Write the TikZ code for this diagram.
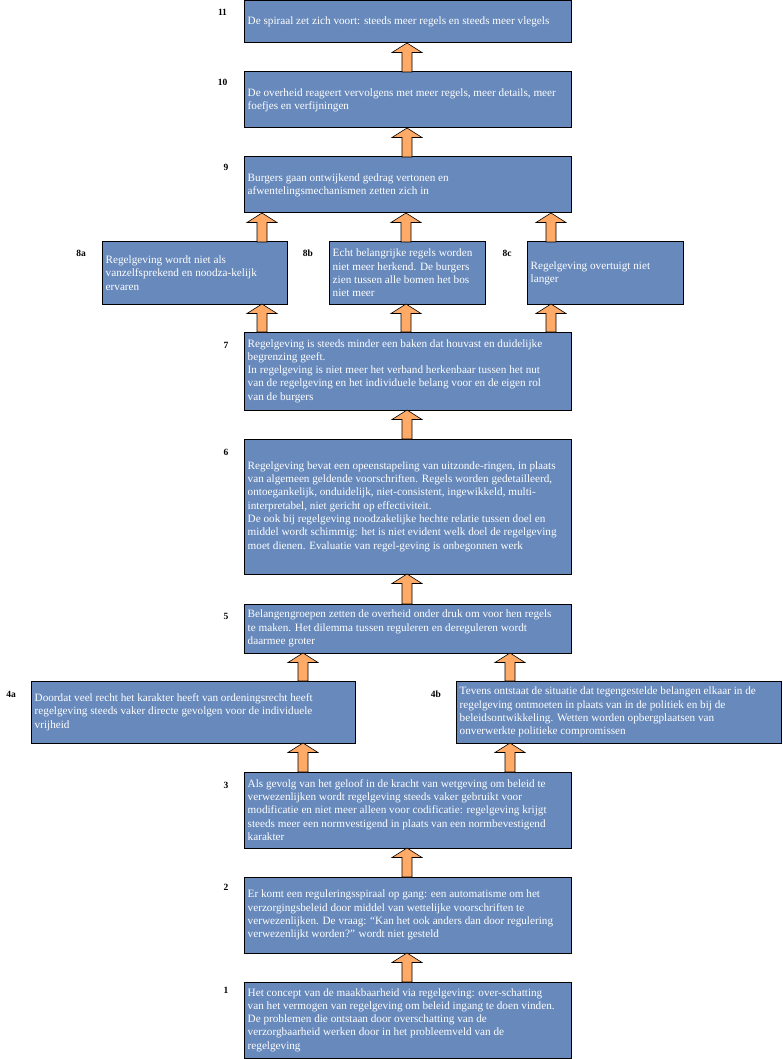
\documentclass[tikz,border=0pt]{standalone}
\usepackage{fontspec}
\setmainfont{Liberation Serif}
\usetikzlibrary{calc}
\definecolor{boxblue}{RGB}{103,137,188}
\definecolor{arroworange}{RGB}{255,170,102}
\tikzset{
 box/.style={draw=black, line width=1pt, fill=boxblue, inner sep=0pt, outer sep=0pt},
 boxtext/.style={text=white, font=\fontsize{11.2}{13.3}\selectfont, align=left, anchor=west, inner sep=0pt},
 num/.style={font=\fontsize{9.5}{10}\selectfont\bfseries, inner sep=0pt},
 blockarrow/.style={draw=black, line width=0.6pt, fill=arroworange, line join=miter},
}
\newcommand{\blockarr}[3]{%
 \draw[blockarrow] let \p1=(#2.north), \p2=(#3.south) in
 ({#1pt-5pt},\y1) -- ({#1pt-5pt},{\y2-9.5pt}) -- ({#1pt-15pt},{\y2-9.5pt}) -- (#1pt,\y2)
 -- ({#1pt+15pt},{\y2-9.5pt}) -- ({#1pt+5pt},{\y2-9.5pt}) -- ({#1pt+5pt},\y1) -- cycle;}
\begin{document}
\begin{tikzpicture}[x=1pt,y=-1pt]
\useasboundingbox (0,0) rectangle (783,1059);
% boxes
\node[box, minimum width=327pt, minimum height=42pt] (b11) at (407.5,22) {};
\node[box, minimum width=327pt, minimum height=56pt] (b10) at (407.5,100) {};
\node[box, minimum width=327pt, minimum height=56pt] (b9) at (407.5,185) {};
\node[box, minimum width=185pt, minimum height=62pt] (b8a) at (194.5,273) {};
\node[box, minimum width=156pt, minimum height=62pt] (b8b) at (407,273) {};
\node[box, minimum width=156pt, minimum height=62pt] (b8c) at (605,273) {};
\node[box, minimum width=327pt, minimum height=78pt] (b7) at (407.5,371) {};
\node[box, minimum width=327pt, minimum height=135pt] (b6) at (407.5,506.5) {};
\node[box, minimum width=327pt, minimum height=49pt] (b5) at (407.5,628.5) {};
\node[box, minimum width=324pt, minimum height=62pt] (b4a) at (193,712) {};
\node[box, minimum width=325pt, minimum height=62pt] (b4b) at (618.5,712) {};
\node[box, minimum width=327pt, minimum height=76pt] (b3) at (407.5,810) {};
\node[box, minimum width=327pt, minimum height=76pt] (b2) at (407.5,915) {};
\node[box, minimum width=327pt, minimum height=76pt] (b1) at (407.5,1020) {};
% texts
\node[boxtext] (t11) at ([xshift=3.5pt]b11.west) {De spiraal zet zich voort: steeds meer regels en steeds meer vlegels};
\node[boxtext] (t10) at ([xshift=3.5pt]b10.west) {De overheid reageert vervolgens met meer regels, meer details, meer\\foefjes en verfijningen};
\node[boxtext] (t9) at ([xshift=3.5pt]b9.west) {Burgers gaan ontwijkend gedrag vertonen en\\afwentelingsmechanismen zetten zich in};
\node[boxtext] (t8a) at ([xshift=3.5pt]b8a.west) {Regelgeving wordt niet als\\vanzelfsprekend en noodza-kelijk\\ervaren};
\node[boxtext] (t8b) at ([xshift=3.5pt]b8b.west) {Echt belangrijke regels worden\\niet meer herkend. De burgers\\zien tussen alle bomen het bos\\niet meer};
\node[boxtext] (t8c) at ([xshift=3.5pt]b8c.west) {Regelgeving overtuigt niet\\langer};
\node[boxtext] (t7) at ([xshift=3.5pt]b7.west) {Regelgeving is steeds minder een baken dat houvast en duidelijke\\begrenzing geeft.\\In regelgeving is niet meer het verband herkenbaar tussen het nut\\van de regelgeving en het individuele belang voor en de eigen rol\\van de burgers};
\node[boxtext] (t6) at ([xshift=3.5pt]b6.west) {Regelgeving bevat een opeenstapeling van uitzonde-ringen, in plaats\\van algemeen geldende voorschriften. Regels worden gedetailleerd,\\ontoegankelijk, onduidelijk, niet-consistent, ingewikkeld, multi-\\interpretabel, niet gericht op effectiviteit.\\De ook bij regelgeving noodzakelijke hechte relatie tussen doel en\\middel wordt schimmig: het is niet evident welk doel de regelgeving\\moet dienen. Evaluatie van regel-geving is onbegonnen werk};
\node[boxtext] (t5) at ([xshift=3.5pt]b5.west) {Belangengroepen zetten de overheid onder druk om voor hen regels\\te maken. Het dilemma tussen reguleren en dereguleren wordt\\daarmee groter};
\node[boxtext] (t4a) at ([xshift=3.5pt]b4a.west) {Doordat veel recht het karakter heeft van ordeningsrecht heeft\\regelgeving steeds vaker directe gevolgen voor de individuele\\vrijheid};
\node[boxtext] (t4b) at ([xshift=3.5pt]b4b.west) {Tevens ontstaat de situatie dat tegengestelde belangen elkaar in de\\regelgeving ontmoeten in plaats van in de politiek en bij de\\beleidsontwikkeling. Wetten worden opbergplaatsen van\\onverwerkte politieke compromissen};
\node[boxtext] (t3) at ([xshift=3.5pt]b3.west) {Als gevolg van het geloof in de kracht van wetgeving om beleid te\\verwezenlijken wordt regelgeving steeds vaker gebruikt voor\\modificatie en niet meer alleen voor codificatie: regelgeving krijgt\\steeds meer een normvestigend in plaats van een normbevestigend\\karakter};
\node[boxtext] (t2) at ([xshift=3.5pt]b2.west) {Er komt een reguleringsspiraal op gang: een automatisme om het\\verzorgingsbeleid door middel van wettelijke voorschriften te\\verwezenlijken. De vraag: “Kan het ook anders dan door regulering\\verwezenlijkt worden?” wordt niet gesteld};
\node[boxtext] (t1) at ([xshift=3.5pt]b1.west) {Het concept van de maakbaarheid via regelgeving: over-schatting\\van het vermogen van regelgeving om beleid ingang te doen vinden.\\De problemen die ontstaan door overschatting van de\\verzorgbaarheid werken door in het probleemveld van de\\regelgeving};
% numbers
\node[num] (n11) at (222.5,12) {11};
\node[num] (n10) at (222.5,82) {10};
\node[num] (n9) at (226,167) {9};
\node[num] (n8a) at (81,253) {8a};
\node[num] (n8b) at (308,253) {8b};
\node[num] (n8c) at (507,253) {8c};
\node[num] (n7) at (226,345) {7};
\node[num] (n6) at (226,452) {6};
\node[num] (n5) at (226,616) {5};
\node[num] (n4a) at (11,694) {4a};
\node[num] (n4b) at (436,694) {4b};
\node[num] (n3) at (226,785) {3};
\node[num] (n2) at (226,887) {2};
\node[num] (n1) at (226,990) {1};
% arrows
\blockarr{407}{b10}{b11}
\blockarr{407}{b9}{b10}
\blockarr{262}{b8a}{b9}
\blockarr{406}{b8b}{b9}
\blockarr{551}{b8c}{b9}
\blockarr{262}{b7}{b8a}
\blockarr{406}{b7}{b8b}
\blockarr{551}{b7}{b8c}
\blockarr{407}{b6}{b7}
\blockarr{407}{b5}{b6}
\blockarr{303}{b4a}{b5}
\blockarr{510}{b4b}{b5}
\blockarr{303}{b3}{b4a}
\blockarr{510}{b3}{b4b}
\blockarr{407}{b2}{b3}
\blockarr{407}{b1}{b2}
\end{tikzpicture}
\end{document}
